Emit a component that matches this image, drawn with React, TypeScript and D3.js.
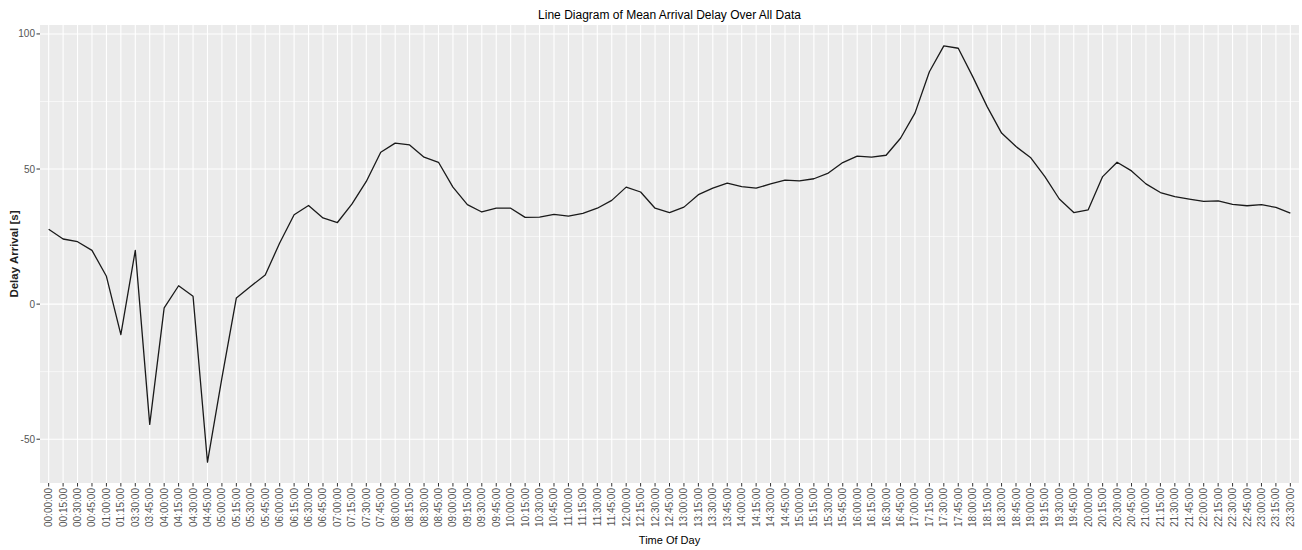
import React, { useEffect, useRef } from "react";
import * as d3 from "d3";

// time slots present in the data (01:30 - 03:15 missing)
const times = [
  "00:00:00", "00:15:00", "00:30:00", "00:45:00", "01:00:00", "01:15:00",
  "03:30:00", "03:45:00", "04:00:00", "04:15:00", "04:30:00", "04:45:00",
  "05:00:00", "05:15:00", "05:30:00", "05:45:00", "06:00:00", "06:15:00",
  "06:30:00", "06:45:00", "07:00:00", "07:15:00", "07:30:00", "07:45:00",
  "08:00:00", "08:15:00", "08:30:00", "08:45:00", "09:00:00", "09:15:00",
  "09:30:00", "09:45:00", "10:00:00", "10:15:00", "10:30:00", "10:45:00",
  "11:00:00", "11:15:00", "11:30:00", "11:45:00", "12:00:00", "12:15:00",
  "12:30:00", "12:45:00", "13:00:00", "13:15:00", "13:30:00", "13:45:00",
  "14:00:00", "14:15:00", "14:30:00", "14:45:00", "15:00:00", "15:15:00",
  "15:30:00", "15:45:00", "16:00:00", "16:15:00", "16:30:00", "16:45:00",
  "17:00:00", "17:15:00", "17:30:00", "17:45:00", "18:00:00", "18:15:00",
  "18:30:00", "18:45:00", "19:00:00", "19:15:00", "19:30:00", "19:45:00",
  "20:00:00", "20:15:00", "20:30:00", "20:45:00", "21:00:00", "21:15:00",
  "21:30:00", "21:45:00", "22:00:00", "22:15:00", "22:30:00", "22:45:00",
  "23:00:00", "23:15:00", "23:30:00",
];

const meanDelay = [
  27.7, 24.1, 23.1, 19.9, 10.3, -11.3,
  19.9, -44.5, -1.4, 6.8, 2.9, -58.5,
  -27.3, 2.3, 6.6, 10.8, 22.6, 33.1,
  36.5, 31.9, 30.2, 37.0, 45.4, 56.2,
  59.6, 58.9, 54.4, 52.5, 43.3, 36.8,
  34.1, 35.5, 35.5, 32.1, 32.2, 33.2,
  32.6, 33.6, 35.5, 38.4, 43.3, 41.5,
  35.5, 33.9, 35.9, 40.5, 42.9, 44.8,
  43.5, 42.9, 44.5, 45.9, 45.6, 46.4,
  48.5, 52.4, 54.8, 54.4, 55.1, 61.4,
  70.7, 86.0, 95.6, 94.7, 84.2, 73.1,
  63.3, 58.3, 54.3, 47.2, 38.9, 33.9,
  34.9, 47.2, 52.5, 49.3, 44.5, 41.3,
  39.8, 38.9, 38.0, 38.2, 36.9, 36.4,
  36.8, 35.8, 33.7,
];

const yMajor = [-50, 0, 50, 100];
const yMinor = [-25, 25, 75];

const W = 1302, H = 550;
const margin = { top: 25, right: 3, bottom: 67, left: 40 };

export default function App() {
  const ref = useRef<SVGSVGElement | null>(null);

  useEffect(() => {
    const svg = d3.select(ref.current);
    svg.selectAll("*").remove();

    const pw = W - margin.left - margin.right;
    const ph = H - margin.top - margin.bottom;

    // ggplot-like discrete expansion of 0.6 units each side
    const n = times.length;
    const step = pw / (n - 1 + 1.2);
    const x = d3.scalePoint<string>()
      .domain(times)
      .range([0.6 * step, pw - 0.6 * step]);

    const [lo, hi] = d3.extent(meanDelay) as [number, number];
    const pad = (hi - lo) * 0.05;
    const y = d3.scaleLinear().domain([lo - pad, hi + pad]).range([ph, 0]);

    const g = svg.append("g").attr("transform", `translate(${margin.left},${margin.top})`);

    g.append("rect").attr("width", pw).attr("height", ph).attr("fill", "#EBEBEB");

    g.selectAll("line.minor").data(yMinor).enter().append("line")
      .attr("x1", 0).attr("x2", pw)
      .attr("y1", d => y(d)).attr("y2", d => y(d))
      .attr("stroke", "#fff").attr("stroke-width", 0.6);

    g.selectAll("line.major").data(yMajor).enter().append("line")
      .attr("x1", 0).attr("x2", pw)
      .attr("y1", d => y(d)).attr("y2", d => y(d))
      .attr("stroke", "#fff").attr("stroke-width", 1.1);

    g.selectAll("line.vgrid").data(times).enter().append("line")
      .attr("x1", d => x(d)!).attr("x2", d => x(d)!)
      .attr("y1", 0).attr("y2", ph)
      .attr("stroke", "#fff").attr("stroke-width", 1.1);

    const line = d3.line<number>()
      .x((d, i) => x(times[i])!)
      .y(d => y(d));

    g.append("path")
      .datum(meanDelay)
      .attr("d", line)
      .attr("fill", "none")
      .attr("stroke", "#1a1a1a")
      .attr("stroke-width", 1.3)
      .attr("stroke-linejoin", "round");

    // y axis
    const ya = g.append("g");
    ya.selectAll("line").data(yMajor).enter().append("line")
      .attr("x1", -3.5).attr("x2", 0)
      .attr("y1", d => y(d)).attr("y2", d => y(d))
      .attr("stroke", "#333").attr("stroke-width", 1);
    ya.selectAll("text").data(yMajor).enter().append("text")
      .attr("x", -5).attr("y", d => y(d)).attr("dy", "0.35em")
      .attr("text-anchor", "end")
      .attr("font-size", 10).attr("fill", "#555")
      .text(d => d);

    // x axis
    const xa = g.append("g").attr("transform", `translate(0,${ph})`);
    xa.selectAll("line").data(times).enter().append("line")
      .attr("x1", d => x(d)!).attr("x2", d => x(d)!)
      .attr("y1", 0).attr("y2", 3.5)
      .attr("stroke", "#333").attr("stroke-width", 1);
    xa.selectAll("text").data(times).enter().append("text")
      .attr("transform", d => `translate(${x(d)},5) rotate(-90)`)
      .attr("dy", "0.35em")
      .attr("text-anchor", "end")
      .attr("font-size", 10).attr("fill", "#555")
      .text(d => d);

    svg.append("text")
      .attr("x", margin.left + pw / 2).attr("y", 18.5)
      .attr("text-anchor", "middle")
      .attr("font-size", 12).attr("fill", "#000")
      .text("Line Diagram of Mean Arrival Delay Over All Data");

    svg.append("text")
      .attr("x", margin.left + pw / 2).attr("y", 544)
      .attr("text-anchor", "middle")
      .attr("font-size", 11).attr("fill", "#000")
      .text("Time Of Day");

    svg.append("text")
      .attr("transform", `translate(18,${margin.top + ph / 2}) rotate(-90)`)
      .attr("text-anchor", "middle")
      .attr("font-size", 11.5).attr("font-weight", 600).attr("fill", "#222")
      .text("Delay Arrival [s]");
  }, []);

  return (
    <svg
      ref={ref}
      width={W}
      height={H}
      style={{ position: "absolute", left: 0, top: 0, fontFamily: "'Liberation Sans', Arial, sans-serif", background: "#fff" }}
    />
  );
}
